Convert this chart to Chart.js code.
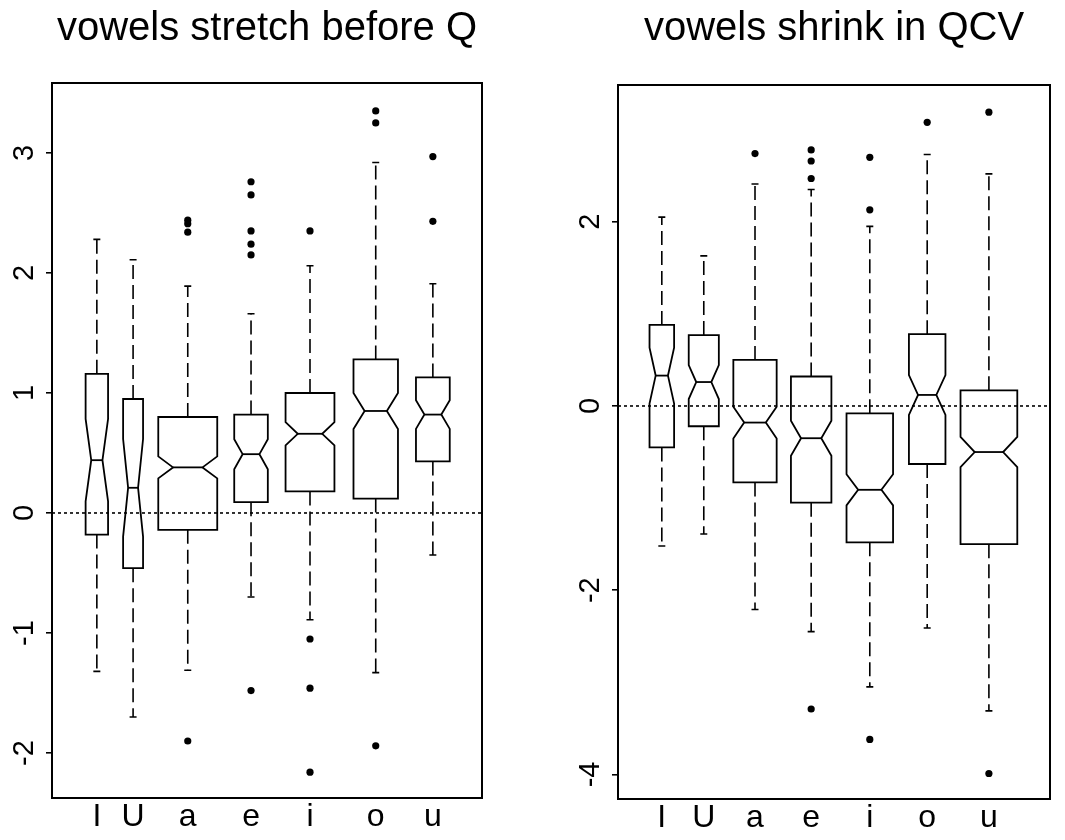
<!DOCTYPE html>
<html>
<head>
<meta charset="utf-8">
<title>vowels</title>
<script src="https://cdn.jsdelivr.net/npm/chart.js@4.4.0/dist/chart.umd.min.js"></script>
<style>
  body { margin: 0; background: #fff; width: 1065px; height: 840px; overflow: hidden; position: relative; }
  canvas { position: absolute; top: 0; }
  #stretchChart { left: 0; }
  #shrinkChart { left: 530px; }
</style>
</head>
<body>
<canvas id="stretchChart" width="530" height="840"></canvas>
<canvas id="shrinkChart" width="535" height="840"></canvas>
<script>
const vowels = ['I', 'U', 'a', 'e', 'i', 'o', 'u'];

// left panel: vowels stretch before Q
const stretchAt = [1.23, 1.82, 2.71, 3.74, 4.70, 5.77, 6.70];
const stretchLow = [-1.32, -1.70, -1.31, -0.70, -0.89, -1.33, -0.35];
const stretchQ1 = [-0.18, -0.46, -0.14, 0.09, 0.18, 0.12, 0.43];
const stretchMedian = [0.44, 0.21, 0.38, 0.49, 0.66, 0.85, 0.82];
const stretchQ3 = [1.16, 0.95, 0.80, 0.82, 1.00, 1.28, 1.13];
const stretchHigh = [2.28, 2.11, 1.89, 1.66, 2.06, 2.92, 1.91];
const stretchN = [38, 30, 262, 85, 180, 149, 86];
const stretchOutliers = [[], [], [2.44, 2.41, 2.34, -1.90], [2.76, 2.65, 2.35, 2.24, 2.15, -1.48],
  [2.35, -1.05, -1.46, -2.16], [3.35, 3.25, -1.94], [2.97, 2.43]];
const stretchTicks = [-2, -1, 0, 1, 2, 3];

// right panel: vowels shrink in QCV
const shrinkAt = [1.21, 1.89, 2.72, 3.63, 4.58, 5.51, 6.51];
const shrinkLow = [-1.52, -1.39, -2.21, -2.45, -3.05, -2.41, -3.31];
const shrinkQ1 = [-0.45, -0.22, -0.83, -1.05, -1.48, -0.63, -1.50];
const shrinkMedian = [0.33, 0.26, -0.18, -0.35, -0.91, 0.12, -0.50];
const shrinkQ3 = [0.88, 0.77, 0.50, 0.32, -0.08, 0.78, 0.17];
const shrinkHigh = [2.05, 1.63, 2.41, 2.35, 1.95, 2.73, 2.52];
const shrinkN = [48, 72, 149, 130, 172, 106, 256];
const shrinkOutliers = [[], [], [2.74], [2.78, 2.66, 2.47, -3.29], [2.70, 2.13, -3.62], [3.08], [3.19, -3.99]];
const shrinkTicks = [-4, -2, 0, 2];

const fontFamily = "'Liberation Sans', Arial, Helvetica, sans-serif";

// R-style notched boxes, varwidth, dashed whiskers
function boxPlugin(s) {
  return {
    id: 'notchedBoxes',
    beforeDatasetsDraw(chart) {
      const ctx = chart.ctx, x = chart.scales.x, y = chart.scales.y;
      const maxRoot = Math.max(...s.n.map(Math.sqrt));
      ctx.save();
      ctx.strokeStyle = '#000';
      s.at.forEach((at, i) => {
        const half = s.boxwex * Math.sqrt(s.n[i]) / maxRoot / 2;
        const notch = 1.58 * (s.q3[i] - s.q1[i]) / Math.sqrt(s.n[i]);
        const xl = x.getPixelForValue(at - half), xr = x.getPixelForValue(at + half);
        const xil = x.getPixelForValue(at - half / 2), xir = x.getPixelForValue(at + half / 2);
        const xc = x.getPixelForValue(at);
        const y1 = y.getPixelForValue(s.q1[i]), y3 = y.getPixelForValue(s.q3[i]);
        const ym = y.getPixelForValue(s.median[i]);
        const ylo = y.getPixelForValue(s.median[i] - notch), yhi = y.getPixelForValue(s.median[i] + notch);
        const ywl = y.getPixelForValue(s.low[i]), ywh = y.getPixelForValue(s.high[i]);

        ctx.lineWidth = 1.8;
        ctx.beginPath();
        ctx.moveTo(xl, y1);
        ctx.lineTo(xr, y1);
        ctx.lineTo(xr, ylo);
        ctx.lineTo(xir, ym);
        ctx.lineTo(xr, yhi);
        ctx.lineTo(xr, y3);
        ctx.lineTo(xl, y3);
        ctx.lineTo(xl, yhi);
        ctx.lineTo(xil, ym);
        ctx.lineTo(xl, ylo);
        ctx.closePath();
        ctx.stroke();

        ctx.beginPath();
        ctx.moveTo(xil, ym);
        ctx.lineTo(xir, ym);
        ctx.stroke();

        ctx.lineWidth = 1.6;
        ctx.setLineDash([14, 6]);
        ctx.beginPath();
        ctx.moveTo(xc, y3);
        ctx.lineTo(xc, ywh);
        ctx.moveTo(xc, y1);
        ctx.lineTo(xc, ywl);
        ctx.stroke();
        ctx.setLineDash([]);

        ctx.beginPath();
        ctx.moveTo(xc - 3.5, ywh);
        ctx.lineTo(xc + 3.5, ywh);
        ctx.moveTo(xc - 3.5, ywl);
        ctx.lineTo(xc + 3.5, ywl);
        ctx.stroke();
      });
      ctx.restore();
    },
    afterDraw(chart) {
      const a = chart.chartArea, ctx = chart.ctx;
      ctx.save();
      ctx.strokeStyle = '#000';
      ctx.lineWidth = 2;
      ctx.strokeRect(a.left, a.top, a.right - a.left, a.bottom - a.top);
      ctx.restore();
    }
  };
}

function makeChart(id, title, s, ticks, yMin, yMax, layout) {
  const points = [];
  s.outliers.forEach((vals, i) => vals.forEach(v => points.push({x: s.at[i], y: v})));
  return new Chart(document.getElementById(id), {
    type: 'scatter',
    data: {
      datasets: [{
        data: [{x: 0.5, y: 0}, {x: 7.5, y: 0}],
        showLine: true,
        borderColor: '#000',
        borderWidth: 1.6,
        borderDash: [3, 3],
        pointRadius: 0
      }, {
        data: points,
        pointRadius: 3.6,
        backgroundColor: '#000',
        borderWidth: 0
      }]
    },
    options: {
      responsive: false,
      animation: false,
      devicePixelRatio: 1,
      layout: {padding: layout.padding},
      plugins: {
        legend: {display: false},
        tooltip: {enabled: false},
        title: {
          display: true,
          text: title,
          fullSize: false,
          color: '#000',
          font: {family: fontFamily, size: 40, weight: 'normal'},
          padding: {top: 5, bottom: layout.titleGap}
        }
      },
      scales: {
        x: {
          type: 'linear',
          min: 0.5,
          max: 7.5,
          afterBuildTicks: sc => { sc.ticks = s.at.map(v => ({value: v})); },
          afterFit: sc => { sc.height = layout.xHeight; },
          ticks: {
            callback: (v, i) => vowels[i],
            autoSkip: false,
            maxRotation: 0,
            padding: 0,
            color: '#000',
            font: {family: fontFamily, size: 32}
          },
          grid: {display: false, drawTicks: false},
          border: {display: false}
        },
        y: {
          type: 'linear',
          min: yMin,
          max: yMax,
          afterBuildTicks: sc => { sc.ticks = ticks.map(v => ({value: v})); },
          afterFit: sc => { sc.width = 52; },
          ticks: {
            minRotation: 90,
            maxRotation: 90,
            crossAlign: 'center',
            padding: 8,
            color: '#000',
            font: {family: fontFamily, size: 29}
          },
          grid: {drawOnChartArea: false, drawTicks: true, tickLength: 6, color: '#000', lineWidth: 1.6},
          border: {display: false}
        }
      }
    },
    plugins: [boxPlugin(s)]
  });
}

makeChart('stretchChart', 'vowels stretch before Q', {
  at: stretchAt, low: stretchLow, q1: stretchQ1, median: stretchMedian, q3: stretchQ3,
  high: stretchHigh, n: stretchN, outliers: stretchOutliers, boxwex: 0.96
}, stretchTicks, -2.375, 3.583, {padding: {left: 0, right: 48, top: 0, bottom: 0}, titleGap: 30, xHeight: 42});

makeChart('shrinkChart', 'vowels shrink in QCV', {
  at: shrinkAt, low: shrinkLow, q1: shrinkQ1, median: shrinkMedian, q3: shrinkQ3,
  high: shrinkHigh, n: shrinkN, outliers: shrinkOutliers, boxwex: 0.92
}, shrinkTicks, -4.267, 3.485, {padding: {left: 36, right: 15, top: 0, bottom: 0}, titleGap: 32, xHeight: 41});
</script>
</body>
</html>
